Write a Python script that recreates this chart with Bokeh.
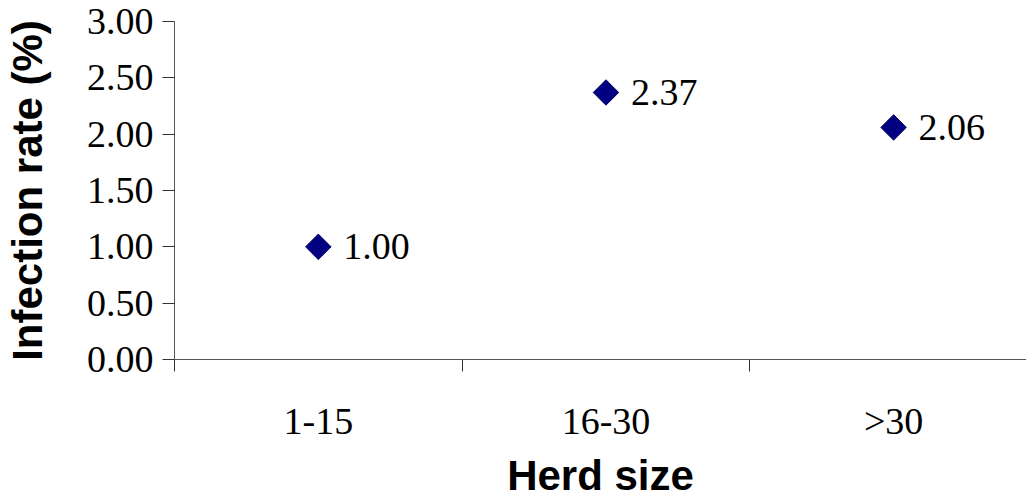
import math
from bokeh.plotting import figure
from bokeh.models import Range1d, FixedTicker, ColumnDataSource, NumeralTickFormatter
from bokeh.core.properties import value
from bokeh.embed import file_html
from bokeh.resources import INLINE

categories = ["1-15", "16-30", ">30"]
rates = [1.00, 2.37, 2.06]
y_ticks = [0.0, 0.5, 1.0, 1.5, 2.0, 2.5, 3.0]
x_title = "Herd size"
y_title = "Infection rate (%)"

xs = [i + 0.5 for i in range(len(categories))]
labels = ["%.2f" % r for r in rates]
src = ColumnDataSource(dict(x=xs, y=rates, label=labels))

p = figure(width=1026, height=501, output_backend="svg", toolbar_location=None,
           x_range=Range1d(0, 2.962), y_range=Range1d(0, 3.0),
           min_border_left=173, min_border_right=0, min_border_top=21, min_border_bottom=141)
p.background_fill_color = "white"
p.border_fill_color = "white"
p.outline_line_color = None
p.xgrid.visible = False
p.ygrid.visible = False

serif = "Liberation Serif"
sans = "Liberation Sans"

# y axis
p.yaxis.ticker = FixedTicker(ticks=y_ticks, minor_ticks=[])
p.yaxis.formatter = NumeralTickFormatter(format="0.00")
p.yaxis.major_label_text_font = serif
p.yaxis.major_label_text_font_size = "38px"
p.yaxis.major_label_text_color = "black"
p.yaxis.major_tick_out = 12
p.yaxis.major_tick_in = 0
p.yaxis.major_label_standoff = 9
p.yaxis.axis_line_color = "#555555"
p.yaxis.major_tick_line_color = "#333333"
p.yaxis.axis_label = y_title
p.yaxis.axis_label_text_font = sans
p.yaxis.axis_label_text_font_style = "bold"
p.yaxis.axis_label_text_font_size = "42px"
p.yaxis.axis_label_text_color = "black"
p.yaxis.axis_label_standoff = 33

# x axis
p.xaxis.ticker = FixedTicker(ticks=xs, minor_ticks=[0, 1, 2, 3])
p.xaxis.major_label_overrides = {x: c for x, c in zip(xs, categories)}
p.xaxis.major_tick_out = 0
p.xaxis.major_tick_in = 0
p.xaxis.minor_tick_out = 12
p.xaxis.minor_tick_in = 0
p.xaxis.minor_tick_line_color = "#333333"
p.xaxis.axis_line_color = "#555555"
p.xaxis.major_label_text_font = serif
p.xaxis.major_label_text_font_size = "38px"
p.xaxis.major_label_text_color = "black"
p.xaxis.major_label_standoff = 28
p.xaxis.axis_label = x_title
p.xaxis.axis_label_text_font = sans
p.xaxis.axis_label_text_font_style = "bold"
p.xaxis.axis_label_text_font_size = "42px"
p.xaxis.axis_label_text_color = "black"
p.xaxis.axis_label_standoff = 7

p.scatter("x", "y", source=src, marker="square", angle=math.pi / 4, size=18,
          fill_color="#000080", line_color="#000060", line_width=1)
p.text("x", "y", text="label", source=src, x_offset=25,
       text_font=value(serif), text_font_size="38px", text_color="black",
       text_baseline="middle", text_align="left")

open("out.html", "w").write(file_html(p, INLINE))
